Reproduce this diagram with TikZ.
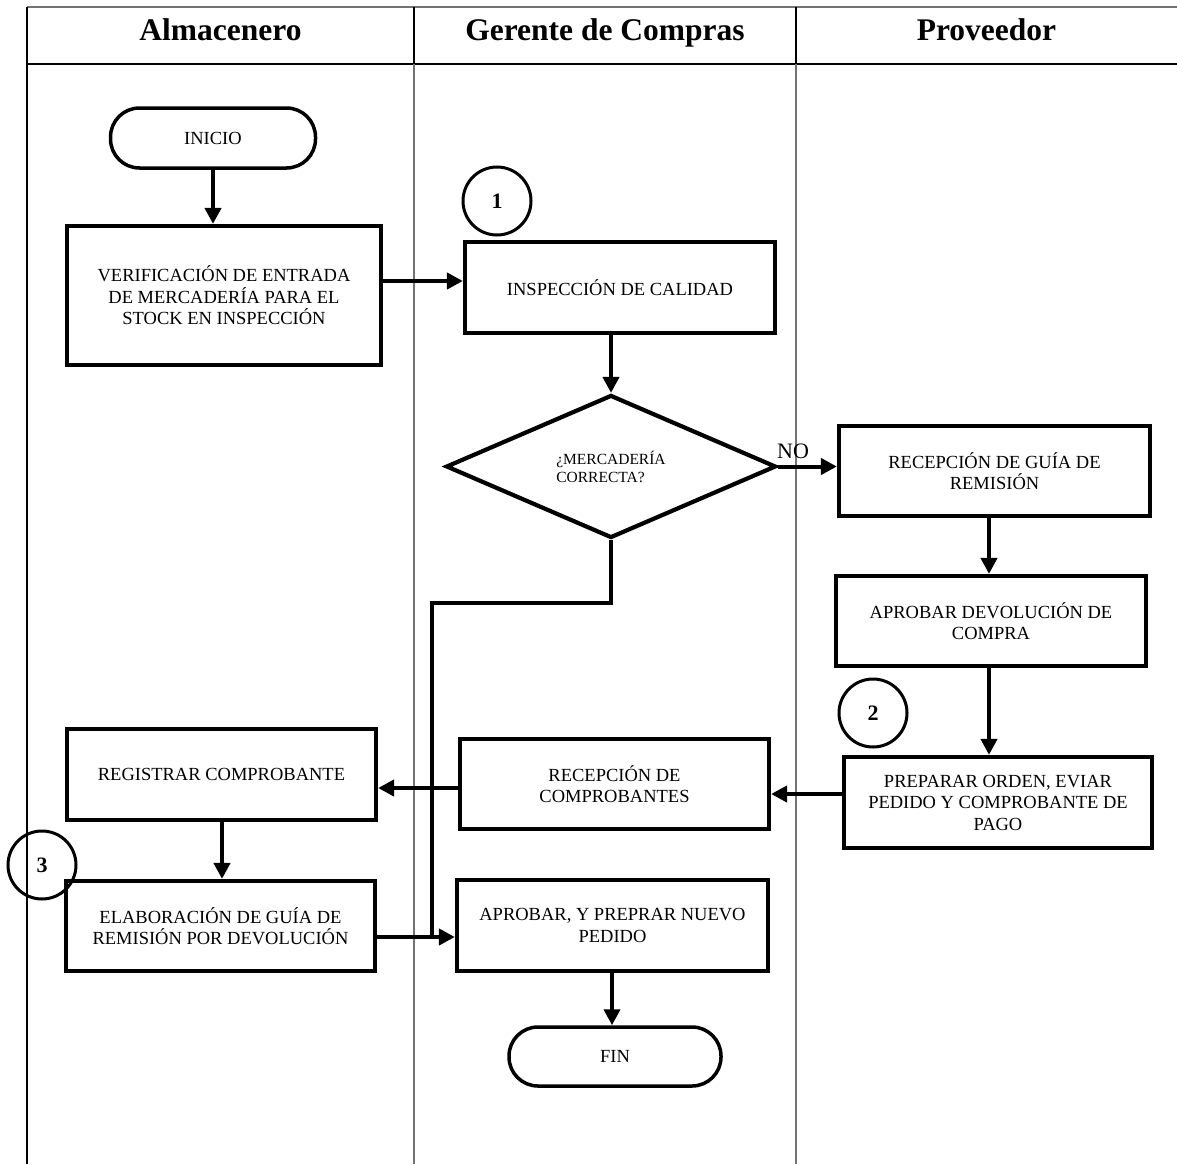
\documentclass[tikz,border=0pt]{standalone}
\usepackage{fontspec}
\setmainfont{Liberation Serif}
\usetikzlibrary{shapes.geometric,arrows.meta}
\begin{document}
\begin{tikzpicture}[x=1pt,y=-1pt,
  boxnode/.style={draw, line width=4.2pt, rectangle, align=center, inner sep=2pt,
    font=\fontsize{18.5}{21.5}\selectfont},
  termnode/.style={draw, line width=3.5pt, rectangle, rounded corners=29pt,
    font=\fontsize{18.5}{21.5}\selectfont},
  decnode/.style={draw, line width=4.2pt, diamond, inner sep=0pt, align=left,
    font=\fontsize{15.5}{18}\selectfont},
  marknode/.style={draw, line width=3pt, circle, minimum size=68pt, inner sep=0pt,
    font=\bfseries\fontsize{22}{22}\selectfont},
  flow/.style={line width=4pt, -{Triangle[length=16pt,width=16pt]}},
  plainline/.style={line width=4pt},
  lanegray/.style={line width=1.5pt, black!55},
  laneblack/.style={line width=1.5pt, black},
  head/.style={font=\bfseries\fontsize{31.5}{34}\selectfont, anchor=base}
]
\useasboundingbox (0,0) rectangle (1177,1164);

% swimlane table
\draw[lanegray] (27,7) -- (1177,7);
\draw[laneblack] (27,64) -- (1177,64);
\draw[line width=1.2pt] (27,7) -- (27,1164);
\draw[laneblack] (414,7) -- (414,64);
\draw[laneblack] (796,7) -- (796,64);
\draw[lanegray] (414,64) -- (414,1164);
\draw[lanegray] (796,64) -- (796,1164);

\node[head] (hdA) at (220.5,41) {Almacenero};
\node[head] (hdB) at (605,41) {Gerente de Compras};
\node[head] (hdC) at (986.5,41) {Proveedor};

% process steps
\node[termnode, minimum width=205pt, minimum height=60pt] (inicio) at (213,138) {INICIO};
\node[boxnode, minimum width=314pt, minimum height=139pt] (verif) at (224,295.5)
  {VERIFICACIÓN DE ENTRADA\\DE MERCADERÍA PARA EL\\STOCK EN INSPECCIÓN};
\node[boxnode, minimum width=310pt, minimum height=91pt] (insp) at (620,287.5)
  {INSPECCIÓN DE CALIDAD};
\node[decnode, minimum width=330pt, minimum height=143pt] (dec) at (611,466.5)
  {¿MERCADERÍA\\CORRECTA?};
\node[boxnode, minimum width=311pt, minimum height=90pt] (guia) at (994.5,471)
  {RECEPCIÓN DE GUÍA DE\\REMISIÓN};
\node[boxnode, minimum width=310pt, minimum height=90pt] (adev) at (991,621)
  {APROBAR DEVOLUCIÓN DE\\COMPRA};
\node[boxnode, minimum width=308pt, minimum height=91pt] (prep) at (998,802.5)
  {PREPARAR ORDEN, EVIAR\\PEDIDO Y COMPROBANTE DE\\PAGO};
\node[boxnode, minimum width=309pt, minimum height=90pt] (rcomp) at (614.5,784)
  {RECEPCIÓN DE\\COMPROBANTES};
\node[boxnode, minimum width=309pt, minimum height=91pt] (reg) at (221.5,774.5)
  {REGISTRAR COMPROBANTE};
\node[boxnode, minimum width=309pt, minimum height=90pt] (elab) at (220.5,926)
  {ELABORACIÓN DE GUÍA DE\\REMISIÓN POR DEVOLUCIÓN};
\node[boxnode, minimum width=311pt, minimum height=91pt] (aprob) at (612.5,925.5)
  {APROBAR, Y PREPRAR NUEVO\\PEDIDO};
\node[termnode, minimum width=212pt, minimum height=59pt] (fin) at (615,1056.5) {FIN};

% numbered markers
\node[marknode] (m1) at (497,201) {1};
\node[marknode] (m2) at (873,713) {2};
\node[marknode] (m3) at (42,865) {3};

% connectors
\coordinate (split) at (432,603);
\coordinate (join) at (432,937);
\draw[flow] (inicio.south) -- (inicio.south |- verif.north);
\draw[flow] (verif.east |- 0,281) -- (insp.west |- 0,281);
\draw[flow] (dec.north |- insp.south) -- (dec.north);
\draw[flow] (dec.east) -- (dec.east -| guia.west);
\node[font=\fontsize{22}{24}\selectfont] (nolab) at (793,451) {NO};
\draw[flow] (989,0 |- guia.south) -- (989,0 |- adev.north);
\draw[flow] (989,0 |- adev.south) -- (989,0 |- prep.north);
\draw[flow] (prep.west |- 0,794) -- (rcomp.east |- 0,794);
\draw[flow] (rcomp.west |- 0,788) -- (reg.east |- 0,788);
\draw[flow] (222,0 |- reg.south) -- (222,0 |- elab.north);
\draw[flow] (elab.east |- join) -- (aprob.west |- join);
\draw[plainline] (dec.south) |- (split) -- (join);
\draw[flow] (612,0 |- aprob.south) -- (612,0 |- fin.north);
\end{tikzpicture}
\end{document}
